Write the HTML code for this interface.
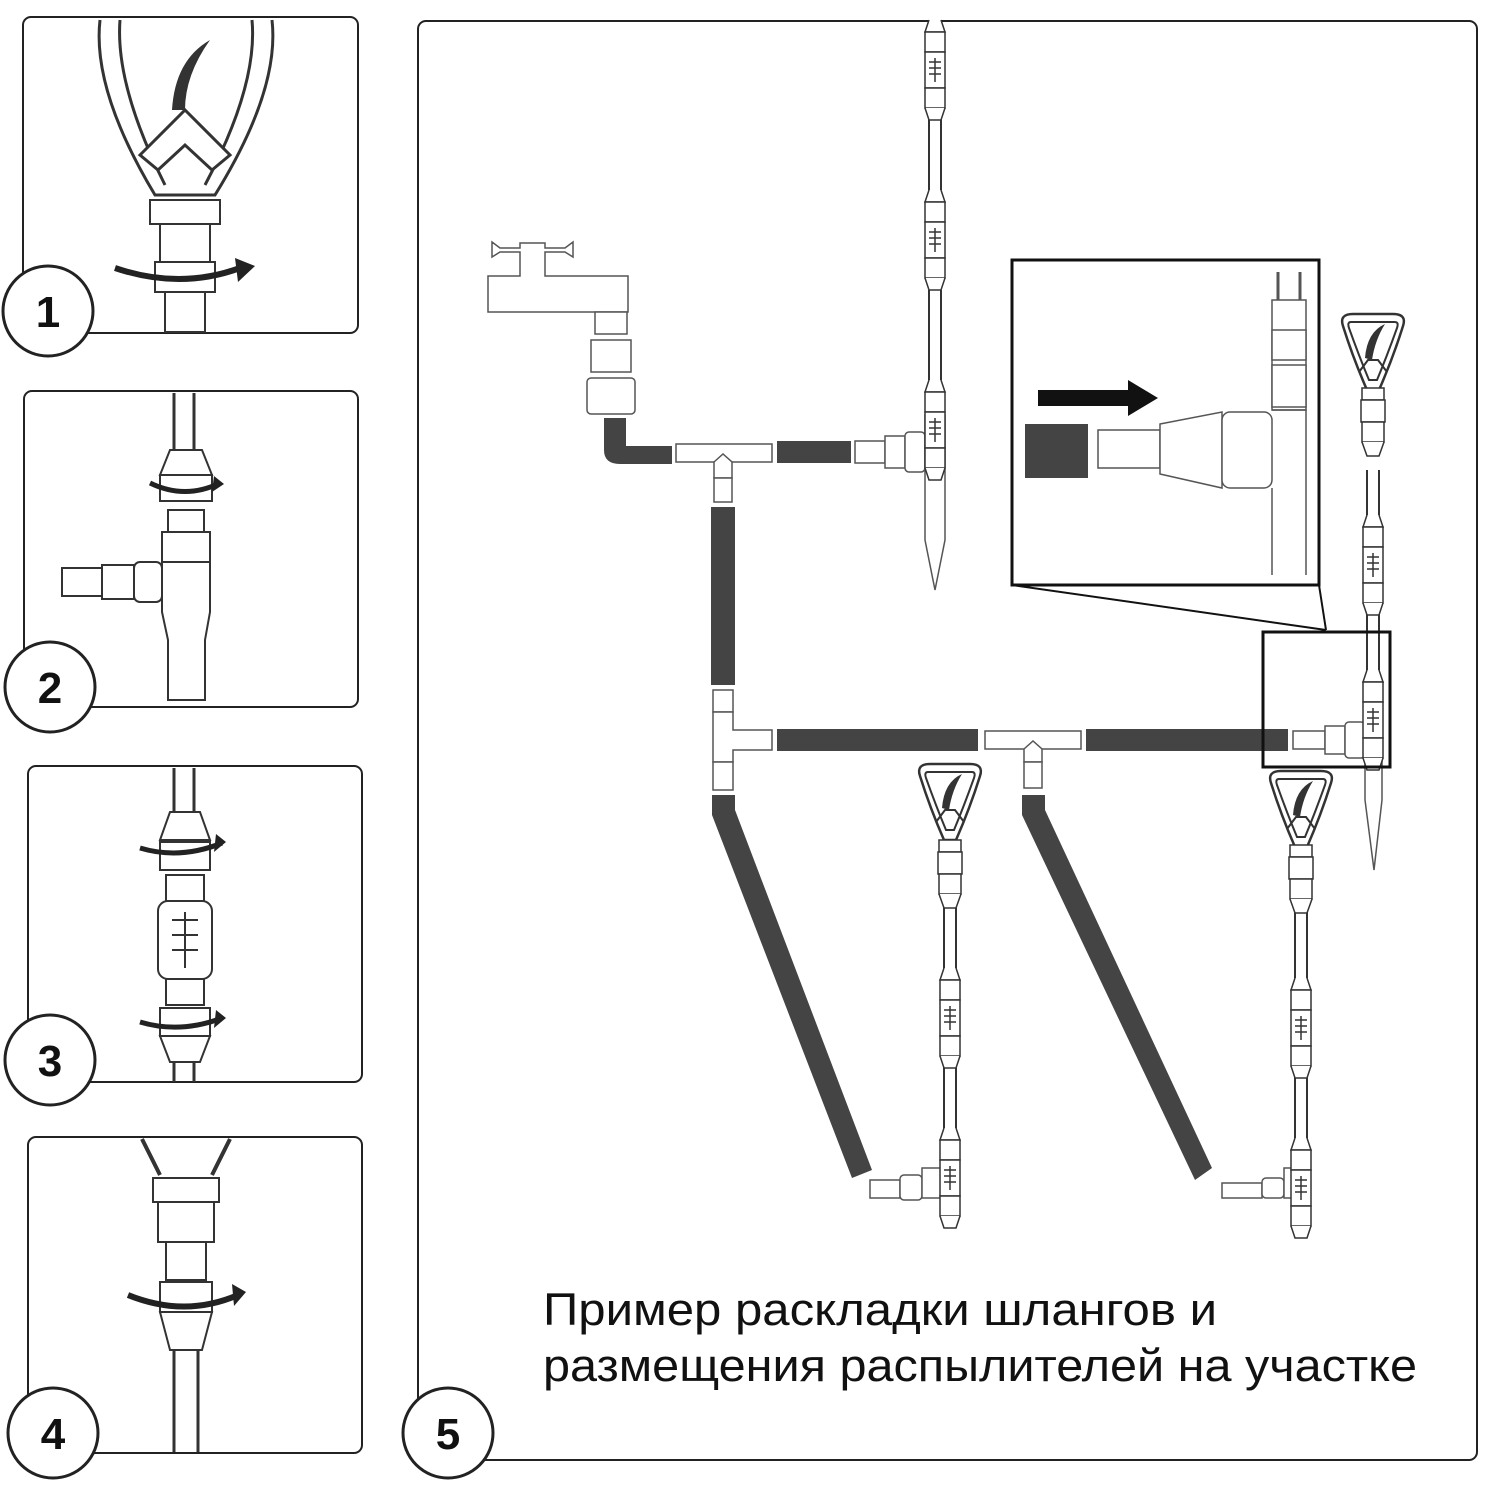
<!DOCTYPE html>
<html><head><meta charset="utf-8"><style>
html,body{margin:0;padding:0;background:#fff;}
svg{display:block;}
text{font-family:"Liberation Sans",sans-serif;}
</style></head><body>
<svg width="1500" height="1500" viewBox="0 0 1500 1500" xmlns="http://www.w3.org/2000/svg">
<defs>
<g id="head">
  <path d="M-30,8 Q-34,-4 -20,-4 L20,-4 Q34,-4 30,8 Q20,40 6,72 L-6,72 Q-20,40 -30,8 Z" fill="#fff" stroke="#333" stroke-width="2.5"/>
  <path d="M-22,4 L22,4 Q26,4 24,10 Q14,38 4,62 L-4,62 Q-14,38 -24,10 Q-26,4 -22,4 Z" fill="#fff" stroke="#333" stroke-width="2"/>
  <path d="M-8,40 Q-6,14 12,6 Q2,22 -1,42 Z" fill="#333"/>
  <path d="M-14,54 L-5,42 L5,42 L14,54" fill="none" stroke="#333" stroke-width="2"/>
</g>
<g id="stem">
  <rect x="-11" y="0" width="22" height="12" fill="#fff" stroke="#333" stroke-width="1.5"/>
  <rect x="-12" y="12" width="24" height="22" fill="#fff" stroke="#333" stroke-width="1.5"/>
  <rect x="-11" y="34" width="22" height="20" fill="#fff" stroke="#333" stroke-width="1.5"/>
  <path d="M-11,54 L-6,68 L6,68 L11,54" fill="#fff" stroke="#333" stroke-width="1.5"/>
</g>
<g id="mid">
  <path d="M-6,0 L-10,12 L10,12 L6,0" fill="#fff" stroke="#333" stroke-width="1.5"/>
  <rect x="-10" y="12" width="20" height="20" fill="#fff" stroke="#333" stroke-width="1.5"/>
  <rect x="-10" y="32" width="20" height="36" fill="#fff" stroke="#333" stroke-width="1.5"/>
  <path d="M-6,42 H6 M-6,48 H6 M-6,54 H6 M0,38 V62" stroke="#333" stroke-width="1.5"/>
  <rect x="-10" y="68" width="20" height="20" fill="#fff" stroke="#333" stroke-width="1.5"/>
  <path d="M-10,88 L-6,100 L6,100 L10,88" fill="#fff" stroke="#333" stroke-width="1.5"/>
</g>
</defs>

<g fill="none" stroke="#222" stroke-width="2">
<rect x="23" y="17" width="335" height="316" rx="8"/>
<rect x="24" y="391" width="334" height="316" rx="8"/>
<rect x="28" y="766" width="334" height="316" rx="8"/>
<rect x="28" y="1137" width="334" height="316" rx="8"/>
<rect x="418" y="21" width="1059" height="1439" rx="8"/>
</g>

<!-- panel 1 -->
<g stroke="#333" stroke-width="3" fill="none">
<path d="M100,20 Q92,90 155,195 L215,195 Q280,90 272,20"/>
<path d="M120,20 Q115,85 165,185 M252,20 Q258,85 205,185"/>
<path d="M140,155 L185,110 L230,155 L212,170 L185,145 L158,170 Z" fill="#fff"/>
</g>
<path d="M172,110 Q175,60 210,40 Q185,75 185,110 Z" fill="#333"/>
<rect x="150" y="200" width="70" height="24" fill="#fff" stroke="#333" stroke-width="2"/>
<rect x="160" y="224" width="50" height="38" fill="#fff" stroke="#333" stroke-width="2"/>
<rect x="155" y="262" width="60" height="30" fill="#fff" stroke="#333" stroke-width="2"/>
<rect x="165" y="292" width="40" height="40" fill="#fff" stroke="#333" stroke-width="2"/>
<path d="M115,268 Q180,290 240,268" fill="none" stroke="#222" stroke-width="6"/>
<path d="M235,258 L255,266 L238,282 Z" fill="#222"/>

<!-- panel 2 -->
<g stroke="#333" stroke-width="2" fill="#fff">
<path d="M174,393 V450 M194,393 V450" fill="none" stroke-width="3"/>
<path d="M170,450 L160,475 L212,475 L202,450 Z"/>
<rect x="160" y="475" width="52" height="26"/>
<rect x="168" y="510" width="36" height="22"/>
<rect x="162" y="532" width="48" height="30"/>
<path d="M162,562 H210 V612 L205,640 V700 H168 V640 L162,612 Z"/>
<rect x="62" y="568" width="40" height="28"/>
<rect x="102" y="565" width="32" height="34"/>
<rect x="134" y="562" width="28" height="40" rx="6"/>
</g>
<path d="M150,483 Q185,500 220,483" fill="none" stroke="#222" stroke-width="5"/>
<path d="M214,476 L224,484 L212,492 Z" fill="#222"/>

<!-- panel 3 -->
<g stroke="#333" stroke-width="2" fill="#fff">
<path d="M174,768 V812 M194,768 V812 M174,1060 V1082 M194,1060 V1082" fill="none" stroke-width="3"/>
<path d="M170,812 L160,840 L210,840 L200,812 Z"/>
<rect x="160" y="842" width="50" height="28"/>
<rect x="166" y="875" width="38" height="26"/>
<rect x="158" y="901" width="54" height="78" rx="10"/>
<rect x="166" y="979" width="38" height="26"/>
<rect x="160" y="1008" width="50" height="28"/>
<path d="M160,1036 L170,1062 L200,1062 L210,1036 Z"/>
</g>
<path d="M172,920 H198 M172,935 H198 M172,950 H198 M185,912 V968" stroke="#333" stroke-width="2"/>
<path d="M140,848 Q180,860 222,843" fill="none" stroke="#222" stroke-width="5"/>
<path d="M216,834 L226,842 L214,852 Z" fill="#222"/>
<path d="M140,1022 Q180,1034 222,1018" fill="none" stroke="#222" stroke-width="5"/>
<path d="M216,1010 L226,1018 L214,1028 Z" fill="#222"/>

<!-- panel 4 -->
<g stroke="#333" stroke-width="2" fill="#fff">
<path d="M142,1139 L160,1175 M230,1139 L212,1175" fill="none" stroke-width="4"/>
<rect x="153" y="1178" width="66" height="24"/>
<rect x="158" y="1202" width="56" height="40"/>
<rect x="166" y="1242" width="40" height="38"/>
<rect x="160" y="1282" width="52" height="30"/>
<path d="M160,1312 L170,1350 L202,1350 L212,1312 Z"/>
<path d="M174,1350 V1452 M198,1350 V1452" fill="none" stroke-width="3"/>
</g>
<path d="M128,1295 Q185,1318 238,1295" fill="none" stroke="#222" stroke-width="6"/>
<path d="M232,1284 L246,1292 L234,1306 Z" fill="#222"/>

<g fill="#fff" stroke="#222" stroke-width="3">
<circle cx="48" cy="311" r="45"/>
<circle cx="50" cy="687" r="45"/>
<circle cx="50" cy="1060" r="45"/>
<circle cx="53" cy="1433" r="45"/>
<circle cx="448" cy="1433" r="45"/>
</g>
<g font-size="44" font-weight="bold" fill="#111" text-anchor="middle">
<text x="48" y="327">1</text>
<text x="50" y="703">2</text>
<text x="50" y="1076">3</text>
<text x="53" y="1449">4</text>
<text x="448" y="1449">5</text>
</g>

<!-- faucet -->
<g stroke="#555" stroke-width="1.5" fill="#fff">
<path d="M492,242 L500,248 L520,248 L520,243 L545,243 L545,248 L565,248 L573,242 V257 L565,252 H545 V276 H628 V312 H488 V276 H520 V252 H500 L492,257 Z"/>
<rect x="595" y="312" width="32" height="22"/>
<rect x="591" y="340" width="40" height="32"/>
<rect x="587" y="378" width="48" height="36" rx="4"/>
</g>
<g fill="#444">
<path d="M604,418 H626 V446 H672 V464 H620 Q604,464 604,450 Z"/>
<rect x="777" y="441" width="74" height="22"/>
<rect x="711" y="507" width="24" height="178"/>
<rect x="777" y="729" width="201" height="22"/>
<rect x="1086" y="729" width="202" height="22"/>
<path d="M712,795 H735 V810 L872,1170 L852,1178 L712,815 Z"/>
<path d="M1022,795 H1045 V810 L1212,1168 L1195,1180 L1022,815 Z"/>
</g>
<g stroke="#555" stroke-width="1.5" fill="#fff">
<rect x="676" y="444" width="96" height="18"/>
<path d="M714,462 L723,454 L732,462 V478 H714 Z"/>
<rect x="714" y="478" width="18" height="24"/>
<rect x="713" y="690" width="20" height="22"/>
<path d="M713,712 H733 V730 H772 V750 H733 V762 H713 Z"/>
<rect x="713" y="762" width="20" height="28"/>
<rect x="985" y="731" width="96" height="18"/>
<path d="M1024,749 L1033,741 L1042,749 V762 H1024 Z"/>
<rect x="1024" y="762" width="18" height="26"/>
<rect x="855" y="441" width="30" height="22"/>
<rect x="885" y="436" width="20" height="32"/>
<rect x="905" y="432" width="20" height="40" rx="4"/>
<path d="M925,415 H945 V540 L935,590 L925,540 Z"/>
<rect x="1293" y="731" width="32" height="18"/>
<rect x="1325" y="726" width="20" height="28"/>
<rect x="1345" y="722" width="20" height="36" rx="4"/>
<path d="M1365,705 H1382 V800 L1374,870 L1365,800 Z"/>
<rect x="870" y="1180" width="30" height="18"/>
<rect x="900" y="1175" width="22" height="25" rx="4"/>
<rect x="922" y="1168" width="36" height="30"/>
<rect x="1222" y="1183" width="40" height="15"/>
<rect x="1262" y="1178" width="22" height="20" rx="4"/>
<rect x="1284" y="1168" width="26" height="30"/>
</g>
<g stroke="#333" stroke-width="2">
<path d="M929,100 V190 M941,100 V190 M929,290 V380 M941,290 V380"/>
<path d="M944,880 V970 M956,880 V970 M944,1060 V1130 M956,1060 V1130"/>
<path d="M1295,900 V990 M1307,900 V990 M1295,1070 V1140 M1307,1070 V1140"/>
<path d="M1367,470 V520 M1379,470 V520 M1367,600 V680 M1379,600 V680"/>
</g>
<use href="#mid" x="935" y="20"/>
<use href="#mid" x="935" y="190"/>
<use href="#mid" x="935" y="380"/>
<use href="#head" x="950" y="768"/>
<use href="#stem" x="950" y="840"/>
<use href="#mid" x="950" y="968"/>
<use href="#mid" x="950" y="1128"/>
<use href="#head" x="1301" y="775"/>
<use href="#stem" x="1301" y="845"/>
<use href="#mid" x="1301" y="978"/>
<use href="#mid" x="1301" y="1138"/>
<use href="#head" x="1373" y="318"/>
<use href="#stem" x="1373" y="388"/>
<use href="#mid" x="1373" y="515"/>
<use href="#mid" x="1373" y="670"/>

<rect x="1012" y="260" width="307" height="325" fill="#fff" stroke="#111" stroke-width="3"/>
<rect x="1263" y="632" width="127" height="135" fill="none" stroke="#111" stroke-width="3"/>
<path d="M1012,585 L1326,630 M1319,585 L1326,630" stroke="#111" stroke-width="2"/>
<g stroke="#555" stroke-width="1.5" fill="#fff">
<path d="M1278,272 V300 M1300,272 V300" fill="none" stroke-width="3"/>
<path d="M1272,300 H1306 V410 H1272 Z"/>
<rect x="1272" y="330" width="34" height="30"/>
<rect x="1272" y="365" width="34" height="42"/>
<path d="M1098,430 H1160 V468 H1098 Z"/>
<path d="M1160,424 L1222,412 V488 L1160,474 Z"/>
<rect x="1222" y="412" width="50" height="76" rx="8"/>
<path d="M1272,410 H1306 V575 M1272,488 V575" fill="none"/>
</g>
<path d="M1038,390 H1128 V380 L1158,398 L1128,416 V406 H1038 Z" fill="#111"/>
<rect x="1025" y="424" width="63" height="54" fill="#444"/>

<text x="543" y="1325" font-size="45" fill="#111" textLength="674" lengthAdjust="spacingAndGlyphs">Пример раскладки шлангов и</text>
<text x="543" y="1381" font-size="45" fill="#111" textLength="874" lengthAdjust="spacingAndGlyphs">размещения распылителей на участке</text>
</svg>
</body></html>
